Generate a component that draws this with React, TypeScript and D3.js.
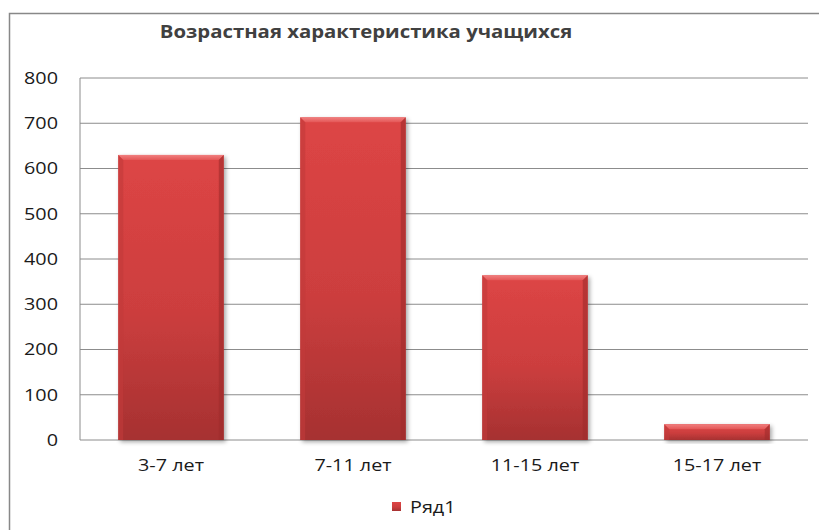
import * as d3 from "d3";

const categories = ["3-7 лет", "7-11 лет", "11-15 лет", "15-17 лет"];
const values = [630, 713, 364, 35];
const yTicks = [0, 100, 200, 300, 400, 500, 600, 700, 800];
const title = "Возрастная характеристика учащихся";
const seriesName = "Ряд1";

const W = 819;
const H = 530;
const plot = { left: 80, right: 808, top: 78, bottom: 440 };
const font = "'Open Sans', 'DejaVu Sans', sans-serif";

// the source picture is stretched sideways, so text is widened a bit
function T({ x, y, anchor = "start", size = 16.5, sx = 1.2, bold = false, dy = "0", children }: any) {
  return (
    <g transform={`translate(${x},${y}) scale(${sx},1)`}>
      <text
        dy={dy}
        textAnchor={anchor}
        fontFamily={font}
        fontSize={size}
        fontWeight={bold ? "bold" : "normal"}
        fill={bold ? "#404040" : "#1a1a1a"}
      >
        {children}
      </text>
    </g>
  );
}

export default function App() {
  const x = d3
    .scaleBand<string>()
    .domain(categories)
    .range([plot.left, plot.right])
    .paddingInner(0.42)
    .paddingOuter(0.21);
  const y = d3.scaleLinear().domain([0, 800]).range([plot.bottom, plot.top]);
  const bw = x.bandwidth();
  const bev = 5;

  return (
    <svg
      width={W}
      height={H}
      style={{ position: "absolute", left: 0, top: 0, background: "#fff" }}
    >
      <defs>
        <linearGradient id="barFill" x1="0" y1="0" x2="0" y2="1">
          <stop offset="0%" stopColor="#dd4545" />
          <stop offset="55%" stopColor="#cc3e3e" />
          <stop offset="100%" stopColor="#a63131" />
        </linearGradient>
        <linearGradient id="topBev" x1="0" y1="0" x2="0" y2="1">
          <stop offset="0%" stopColor="#f08080" />
          <stop offset="100%" stopColor="#e45656" />
        </linearGradient>
        <filter id="shadow" x="-10%" y="-10%" width="130%" height="130%">
          <feDropShadow dx="2" dy="2" stdDeviation="2" floodColor="#000" floodOpacity="0.35" />
        </filter>
      </defs>

      <rect x={9.5} y={13.5} width={830} height={530} fill="none" stroke="#888" strokeWidth={1.5} />

      <T x={366} y={38} anchor="middle" size={18} sx={1.13} bold>
        {title}
      </T>

      {yTicks.map((t) => (
        <g key={t}>
          <line
            x1={plot.left}
            x2={plot.right}
            y1={y(t)}
            y2={y(t)}
            stroke="#8c8c8c"
            strokeWidth={1}
          />
          <T x={58} y={y(t)} anchor="end" dy="0.36em">
            {t}
          </T>
        </g>
      ))}
      <line x1={plot.left} x2={plot.left} y1={plot.top} y2={plot.bottom} stroke="#8c8c8c" />

      {categories.map((c, i) => {
        const x0 = x(c)!;
        const x1 = x0 + bw;
        const y0 = y(values[i]);
        const y1 = y(0);
        const b = Math.min(bev, (y1 - y0) / 2);
        return (
          <g key={c}>
            <rect x={x0} y={y0} width={bw} height={y1 - y0} fill="url(#barFill)" filter="url(#shadow)" />
            <polygon
              points={`${x0},${y0} ${x1},${y0} ${x1 - b},${y0 + b} ${x0 + b},${y0 + b}`}
              fill="url(#topBev)"
            />
            <polygon
              points={`${x0},${y0} ${x0 + b},${y0 + b} ${x0 + b},${y1} ${x0},${y1}`}
              fill="#c23a3a"
              opacity={0.6}
            />
            <polygon
              points={`${x1},${y0} ${x1 - b},${y0 + b} ${x1 - b},${y1} ${x1},${y1}`}
              fill="#9e2c2c"
              opacity={0.6}
            />
            <T x={x0 + bw / 2} y={471} anchor="middle">
              {c}
            </T>
          </g>
        );
      })}

      <rect x={392} y={502} width={9} height={9} fill="url(#barFill)" />
      <T x={410} y={513}>
        {seriesName}
      </T>
    </svg>
  );
}
